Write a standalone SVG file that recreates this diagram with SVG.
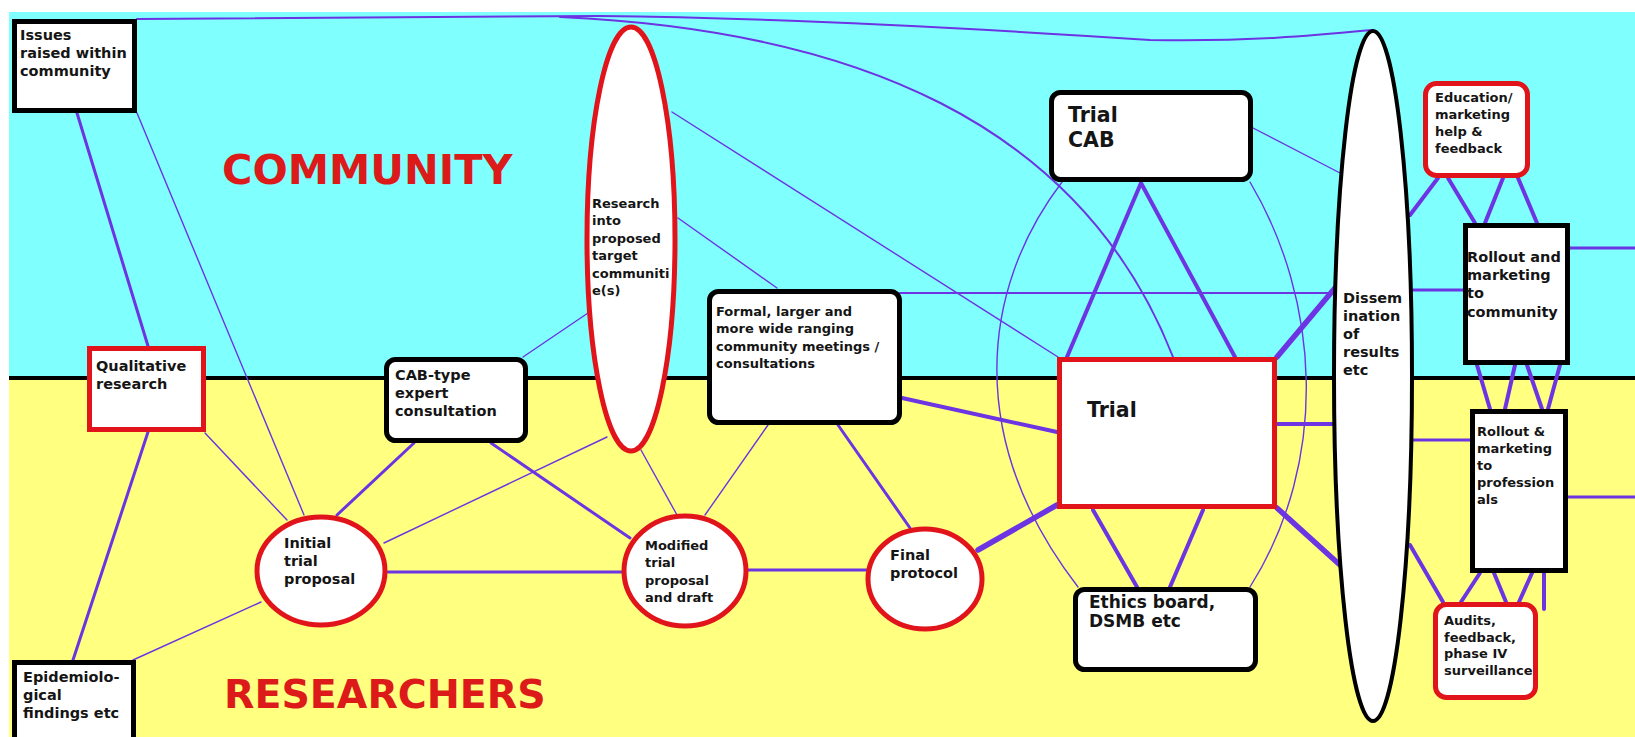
<svg xmlns="http://www.w3.org/2000/svg" width="1635" height="737" viewBox="0 0 1635 737">
<style>
.ln{stroke:#6c34e2;fill:none;stroke-linecap:round}
.t1{stroke-width:1.4}.t2{stroke-width:2}.t3{stroke-width:3}.t4{stroke-width:4}.t5{stroke-width:5.5}
.rb{fill:#fff;stroke:#e1141b;stroke-width:5}
.kb{fill:#fff;stroke:#000;stroke-width:5}
.lb{font-family:"DejaVu Sans",Verdana,sans-serif;font-weight:bold;fill:#151515}
.s13{font-size:13px}.s14{font-size:14.5px}
.big{font-family:"DejaVu Sans",Verdana,sans-serif;font-weight:bold;fill:#dc1a1a}
</style>
<g id="background">
<rect x="0" y="0" width="1635" height="737" fill="#fff"/>
<rect x="9" y="12" width="1626" height="366" fill="#80ffff"/>
<rect x="9" y="378" width="1626" height="359" fill="#ffff80"/>
<line x1="9" y1="378" x2="1635" y2="378" stroke="#000" stroke-width="4"/>
<text class="big" x="222" y="184" font-size="41.5">COMMUNITY</text>
<text class="big" x="224" y="708" font-size="39.5">RESEARCHERS</text>
</g>
<g id="connectors">
<path class="ln t2" d="M137,19 L600,16 C800,18 1000,30 1150,40 C1250,42 1320,35 1372,30"/>
<path class="ln t2" d="M560,17 C850,30 1080,120 1173,357"/>
<path class="ln t1" d="M1062,182 C980,290 965,440 1078,587"/>
<path class="ln t1" d="M1250,182 C1320,300 1330,460 1250,587"/>
<line class="ln t3" x1="77" y1="113" x2="148" y2="346"/>
<line class="ln t3" x1="148" y1="432" x2="73" y2="660"/>
<line class="ln t1" x1="137" y1="113" x2="304" y2="515"/>
<line class="ln t1" x1="205" y1="433" x2="287" y2="520"/>
<line class="ln t1" x1="261" y1="602" x2="133" y2="660"/>
<line class="ln t3" x1="414" y1="443" x2="337" y2="515"/>
<line class="ln t3" x1="491" y1="443" x2="630" y2="538"/>
<line class="ln t1" x1="384" y1="543" x2="607" y2="437"/>
<line class="ln t1" x1="523" y1="357" x2="588" y2="313"/>
<line class="ln t3" x1="388" y1="572" x2="624" y2="572"/>
<line class="ln t1" x1="641" y1="450" x2="677" y2="515"/>
<line class="ln t1" x1="768" y1="425" x2="705" y2="515"/>
<line class="ln t3" x1="838" y1="425" x2="910" y2="528"/>
<line class="ln t3" x1="748" y1="570" x2="867" y2="570"/>
<line class="ln t5" x1="978" y1="550" x2="1057" y2="505"/>
<line class="ln t4" x1="902" y1="398" x2="1057" y2="432"/>
<line class="ln t1" x1="672" y1="112" x2="1058" y2="357"/>
<line class="ln t1" x1="678" y1="218" x2="777" y2="288"/>
<line class="ln t2" x1="900" y1="293" x2="1334" y2="293"/>
<line class="ln t4" x1="1141" y1="183" x2="1067" y2="357"/>
<line class="ln t4" x1="1141" y1="183" x2="1235" y2="357"/>
<line class="ln t1" x1="1253" y1="128" x2="1340" y2="173"/>
<line class="ln t5" x1="1277" y1="357" x2="1335" y2="288"/>
<line class="ln t4" x1="1277" y1="424" x2="1335" y2="424"/>
<line class="ln t5" x1="1277" y1="508" x2="1340" y2="565"/>
<line class="ln t4" x1="1093" y1="510" x2="1137" y2="587"/>
<line class="ln t4" x1="1203" y1="510" x2="1170" y2="587"/>
<line class="ln t4" x1="1438" y1="178" x2="1410" y2="215"/>
<line class="ln t4" x1="1448" y1="178" x2="1475" y2="223"/>
<line class="ln t4" x1="1503" y1="178" x2="1485" y2="223"/>
<line class="ln t4" x1="1518" y1="178" x2="1537" y2="223"/>
<line class="ln t3" x1="1411" y1="290" x2="1463" y2="290"/>
<line class="ln t3" x1="1570" y1="248" x2="1635" y2="248"/>
<line class="ln t4" x1="1477" y1="365" x2="1490" y2="409"/>
<line class="ln t4" x1="1515" y1="365" x2="1505" y2="409"/>
<line class="ln t4" x1="1527" y1="365" x2="1542" y2="409"/>
<line class="ln t4" x1="1560" y1="365" x2="1548" y2="409"/>
<line class="ln t3" x1="1411" y1="440" x2="1470" y2="440"/>
<line class="ln t3" x1="1568" y1="497" x2="1635" y2="497"/>
<line class="ln t4" x1="1410" y1="545" x2="1443" y2="602"/>
<line class="ln t4" x1="1480" y1="573" x2="1461" y2="602"/>
<line class="ln t4" x1="1494" y1="573" x2="1506" y2="602"/>
<line class="ln t4" x1="1532" y1="573" x2="1519" y2="602"/>
<line class="ln t4" x1="1544" y1="573" x2="1544" y2="609"/>
</g>
<g id="issues">
<rect class="kb" x="14.5" y="21.5" width="120" height="89"/>
<text class="lb s14"><tspan x="20" y="40">Issues</tspan><tspan x="20" y="58">raised within</tspan><tspan x="20" y="76">community</tspan></text>
</g>
<g id="qualitative">
<rect class="rb" x="89.5" y="348.5" width="114" height="81"/>
<text class="lb s14"><tspan x="96" y="371">Qualitative</tspan><tspan x="96" y="389">research</tspan></text>
</g>
<g id="epidemiological">
<rect class="kb" x="14.5" y="662.5" width="119" height="80"/>
<text class="lb s14"><tspan x="23" y="682">Epidemiolo-</tspan><tspan x="23" y="700">gical</tspan><tspan x="23" y="718">findings etc</tspan></text>
</g>
<g id="cab-type">
<rect class="kb" x="386.5" y="359.5" width="139" height="81" rx="9"/>
<text class="lb s14"><tspan x="395" y="380">CAB-type</tspan><tspan x="395" y="398">expert</tspan><tspan x="395" y="416">consultation</tspan></text>
</g>
<g id="research">
<ellipse class="rb" cx="631" cy="239" rx="44" ry="212"/>
<text class="lb s13"><tspan x="592" y="208">Research</tspan><tspan x="592" y="225">into</tspan><tspan x="592" y="243">proposed</tspan><tspan x="592" y="260">target</tspan><tspan x="592" y="278">communiti</tspan><tspan x="592" y="295">e(s)</tspan></text>
</g>
<g id="formal">
<rect class="kb" x="709.5" y="291.5" width="190" height="131" rx="9"/>
<text class="lb s13"><tspan x="716" y="316">Formal, larger and</tspan><tspan x="716" y="333">more wide ranging</tspan><tspan x="716" y="351">community meetings /</tspan><tspan x="716" y="368">consultations</tspan></text>
</g>
<g id="initial">
<ellipse class="rb" cx="321" cy="571" rx="64" ry="54"/>
<text class="lb s14"><tspan x="284" y="548">Initial</tspan><tspan x="284" y="566">trial</tspan><tspan x="284" y="584">proposal</tspan></text>
</g>
<g id="modified">
<ellipse class="rb" cx="685" cy="571" rx="61" ry="55"/>
<text class="lb s13"><tspan x="645" y="550">Modified</tspan><tspan x="645" y="567">trial</tspan><tspan x="645" y="585">proposal</tspan><tspan x="645" y="602">and draft</tspan></text>
</g>
<g id="final">
<ellipse class="rb" cx="925" cy="579" rx="57" ry="50"/>
<text class="lb s14"><tspan x="890" y="560">Final</tspan><tspan x="890" y="578">protocol</tspan></text>
</g>
<g id="trial-cab">
<rect class="kb" x="1051.5" y="92.5" width="199" height="87" rx="9"/>
<text class="lb" font-size="20.5"><tspan x="1068" y="122">Trial</tspan><tspan x="1068" y="147">CAB</tspan></text>
</g>
<g id="trial">
<rect class="rb" x="1059.5" y="359.5" width="215" height="147"/>
<text class="lb" font-size="20.5" x="1087" y="417">Trial</text>
</g>
<g id="ethics">
<rect class="kb" x="1075.5" y="589.5" width="180" height="80" rx="9"/>
<text class="lb" font-size="17"><tspan x="1089" y="608">Ethics board,</tspan><tspan x="1089" y="627">DSMB etc</tspan></text>
</g>
<g id="dissemination">
<ellipse cx="1373" cy="376" rx="39" ry="345" fill="#fff" stroke="#000" stroke-width="4"/>
<text class="lb s14"><tspan x="1343" y="303">Dissem</tspan><tspan x="1343" y="321">ination</tspan><tspan x="1343" y="339">of</tspan><tspan x="1343" y="357">results</tspan><tspan x="1343" y="375">etc</tspan></text>
</g>
<g id="education">
<rect class="rb" x="1425.5" y="83.5" width="102" height="92" rx="11"/>
<text class="lb s13"><tspan x="1435" y="102">Education/</tspan><tspan x="1435" y="119">marketing</tspan><tspan x="1435" y="136">help &amp;</tspan><tspan x="1435" y="153">feedback</tspan></text>
</g>
<g id="rollout-community">
<rect class="kb" x="1465.5" y="225.5" width="102" height="137"/>
<text class="lb s14"><tspan x="1467" y="262">Rollout and</tspan><tspan x="1467" y="280">marketing</tspan><tspan x="1467" y="298">to</tspan><tspan x="1467" y="317">community</tspan></text>
</g>
<g id="rollout-professionals">
<rect class="kb" x="1472.5" y="411.5" width="93" height="159"/>
<text class="lb s13"><tspan x="1477" y="436">Rollout &amp;</tspan><tspan x="1477" y="453">marketing</tspan><tspan x="1477" y="470">to</tspan><tspan x="1477" y="487">profession</tspan><tspan x="1477" y="504">als</tspan></text>
</g>
<g id="audits">
<rect class="rb" x="1435.5" y="604.5" width="100" height="93" rx="11"/>
<text class="lb s13"><tspan x="1444" y="625">Audits,</tspan><tspan x="1444" y="642">feedback,</tspan><tspan x="1444" y="658">phase IV</tspan><tspan x="1444" y="675">surveillance</tspan></text>
</g>
</svg>
